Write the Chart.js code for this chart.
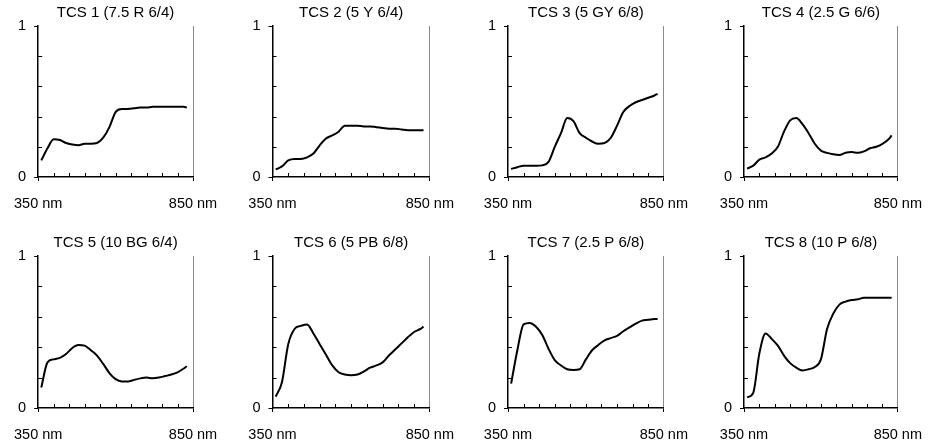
<!DOCTYPE html>
<html>
<head>
<meta charset="utf-8">
<script src="https://cdn.jsdelivr.net/npm/chart.js@4.4.1/dist/chart.umd.min.js"></script>
<style>
  body { margin: 0; background: #fff; }
  #wrap { position: relative; width: 935px; height: 444px; }
  #wrap canvas { position: absolute; }
</style>
</head>
<body>
<div id="wrap"></div>
<script>
// wavelengths in nm (reflectance every 20 nm)
const wavelengths = [360, 380, 400, 420, 440, 460, 480, 500, 520, 540, 560, 580, 600,
                     620, 640, 660, 680, 700, 720, 740, 760, 780, 800, 820, 830];

const tcs1 = [0.11, 0.19, 0.25, 0.245, 0.225, 0.215, 0.21, 0.22, 0.22, 0.225, 0.26, 0.33, 0.43,
              0.45, 0.45, 0.455, 0.46, 0.46, 0.465, 0.465, 0.465, 0.465, 0.465, 0.465, 0.46];
const tcs2 = [0.05, 0.07, 0.11, 0.12, 0.12, 0.13, 0.155, 0.21, 0.255, 0.275, 0.30, 0.34, 0.34,
              0.34, 0.335, 0.335, 0.33, 0.325, 0.32, 0.32, 0.315, 0.31, 0.31, 0.31, 0.31];
const tcs3 = [0.053, 0.065, 0.075, 0.075, 0.075, 0.077, 0.10, 0.20, 0.29, 0.39, 0.37, 0.29, 0.26,
              0.235, 0.22, 0.225, 0.26, 0.34, 0.43, 0.47, 0.495, 0.51, 0.525, 0.54, 0.55];
const tcs4 = [0.055, 0.075, 0.115, 0.13, 0.155, 0.20, 0.30, 0.375, 0.39, 0.35, 0.29, 0.22, 0.175,
              0.16, 0.15, 0.145, 0.16, 0.165, 0.16, 0.17, 0.19, 0.20, 0.22, 0.25, 0.275];
const tcs5 = [0.135, 0.30, 0.32, 0.33, 0.355, 0.395, 0.415, 0.41, 0.38, 0.345, 0.29, 0.23, 0.19,
              0.175, 0.175, 0.185, 0.195, 0.20, 0.195, 0.20, 0.21, 0.22, 0.235, 0.26, 0.275];
const tcs6 = [0.075, 0.17, 0.42, 0.52, 0.54, 0.55, 0.49, 0.42, 0.35, 0.28, 0.235, 0.22, 0.215,
              0.22, 0.24, 0.265, 0.28, 0.30, 0.345, 0.385, 0.425, 0.465, 0.50, 0.52, 0.535];
const tcs7 = [0.16, 0.38, 0.55, 0.56, 0.535, 0.48, 0.39, 0.315, 0.28, 0.255, 0.25, 0.255, 0.32,
              0.38, 0.415, 0.445, 0.46, 0.475, 0.505, 0.53, 0.555, 0.575, 0.58, 0.585, 0.585];
const tcs8 = [0.07, 0.10, 0.36, 0.49, 0.455, 0.41, 0.345, 0.295, 0.265, 0.247, 0.255, 0.27, 0.32,
              0.52, 0.62, 0.68, 0.70, 0.71, 0.715, 0.725, 0.725, 0.725, 0.725, 0.725, 0.725];

const titles = ['TCS 1 (7.5 R 6/4)', 'TCS 2 (5 Y 6/4)', 'TCS 3 (5 GY 6/8)', 'TCS 4 (2.5 G 6/6)',
                'TCS 5 (10 BG 6/4)', 'TCS 6 (5 PB 6/8)', 'TCS 7 (2.5 P 6/8)', 'TCS 8 (10 P 6/8)'];
const series = [tcs1, tcs2, tcs3, tcs4, tcs5, tcs6, tcs7, tcs8];

const xTicks = [350, 850];
const yTicks = [0, 1];
const minorX = [400, 450, 500, 550, 600, 650, 700, 750, 800];
const minorY = [0.2, 0.4, 0.6, 0.8];

const FONT = "'Liberation Sans', Arial, sans-serif";
const CW = 234, CH = 222;
const plotW = 158;
const yWidth = 30;
const colLeft = [35, 38.5, 40, 42];   // plot left inside each canvas
const rowTopPad = [4, 12];           // layout padding above the title
const rowBottomPad = [9, 0];

// small inward ticks for the intermediate values
const innerTicks = {
  id: 'innerTicks',
  afterDatasetsDraw(chart) {
    const { ctx, scales: { x, y } } = chart;
    ctx.save();
    ctx.strokeStyle = '#000';
    ctx.lineWidth = 1;
    ctx.beginPath();
    minorX.forEach(v => {
      const px = Math.round(x.getPixelForValue(v)) + 0.5;
      ctx.moveTo(px, y.bottom);
      ctx.lineTo(px, y.bottom - 4);
    });
    minorY.forEach(v => {
      const py = Math.round(y.getPixelForValue(v)) + 0.5;
      ctx.moveTo(x.left, py);
      ctx.lineTo(x.left + 4, py);
    });
    ctx.stroke();
    ctx.restore();
  }
};

// centre the title over the plot rather than over plot + y axis
const centreTitle = {
  id: 'centreTitle',
  afterLayout(chart) {
    const t = chart.titleBlock;
    if (t) {
      t.left = chart.chartArea.left;
      t.right = chart.chartArea.right;
    }
  }
};

const wrap = document.getElementById('wrap');

series.forEach((vals, i) => {
  const row = Math.floor(i / 4), col = i % 4;
  const canvas = document.createElement('canvas');
  canvas.width = CW;
  canvas.height = CH;
  canvas.style.left = (col * CW) + 'px';
  canvas.style.top = (row * CH) + 'px';
  wrap.appendChild(canvas);

  const left = colLeft[col];

  new Chart(canvas.getContext('2d'), {
    type: 'line',
    data: {
      datasets: [{
        data: wavelengths.map((w, k) => ({ x: w, y: vals[k] })),
        borderColor: '#000',
        borderWidth: 2,
        pointRadius: 0,
        fill: false,
        cubicInterpolationMode: 'monotone'
      }]
    },
    options: {
      responsive: false,
      animation: false,
      devicePixelRatio: 1,
      layout: {
        padding: {
          left: left - yWidth,
          right: CW - left - plotW,
          top: rowTopPad[row],
          bottom: rowBottomPad[row]
        }
      },
      plugins: {
        legend: { display: false },
        tooltip: { enabled: false },
        title: {
          display: true,
          text: titles[i],
          color: '#000',
          font: { family: FONT, size: 15, weight: 'normal', lineHeight: 1.2 },
          padding: { top: 0, bottom: 4 }
        }
      },
      scales: {
        x: {
          type: 'linear',
          min: 350,
          max: 850,
          afterBuildTicks: s => { s.ticks = xTicks.map(v => ({ value: v })); },
          afterFit: s => { s.height = 36; },
          border: { display: true, color: '#000', width: 1.5 },
          grid: {
            display: true,
            drawOnChartArea: true,
            drawTicks: true,
            tickLength: 4,
            tickColor: '#000',
            color: c => (c.tick && c.tick.value === 850) ? '#8a8a8a' : 'rgba(0,0,0,0)'
          },
          ticks: {
            color: '#000',
            padding: 14,
            maxRotation: 0,
            autoSkip: false,
            font: { family: FONT, size: 14.5 },
            callback: v => v + ' nm'
          }
        },
        y: {
          min: 0,
          max: 1,
          afterBuildTicks: s => { s.ticks = yTicks.map(v => ({ value: v })); },
          afterFit: s => { s.width = yWidth; },
          border: { display: true, color: '#000', width: 1.5 },
          grid: {
            display: true,
            drawOnChartArea: false,
            drawTicks: true,
            tickLength: 4,
            tickColor: '#000'
          },
          ticks: {
            color: '#000',
            padding: 8,
            font: { family: FONT, size: 14.5 },
            callback: v => String(v)
          }
        }
      }
    },
    plugins: [innerTicks, centreTitle]
  });
});
</script>
</body>
</html>
